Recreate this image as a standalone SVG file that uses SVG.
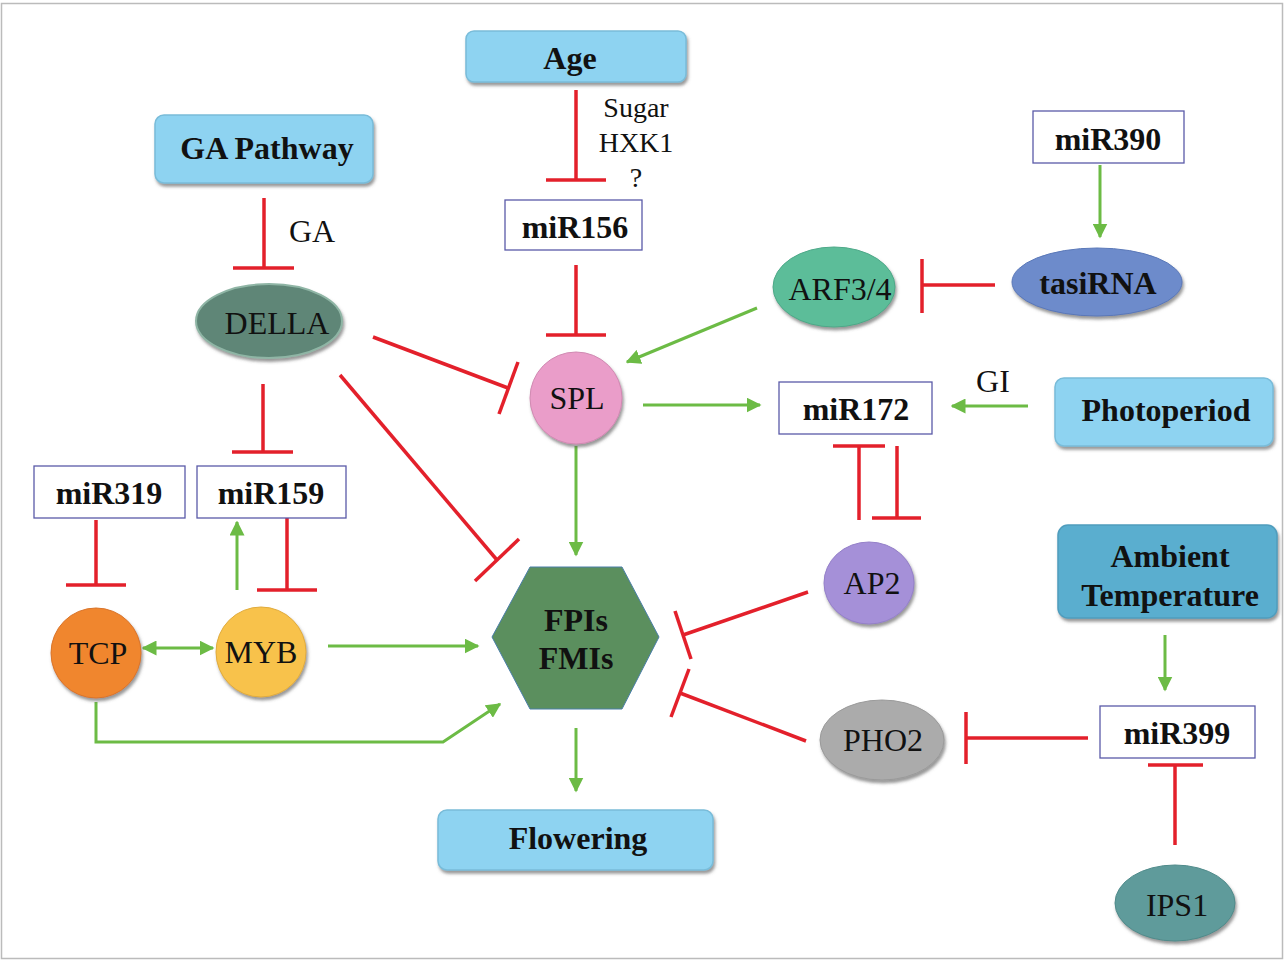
<svg xmlns="http://www.w3.org/2000/svg" width="1285" height="962" viewBox="0 0 1285 962">
<defs>
<style>
.bx{fill:#8ed3f1;stroke:#79bcd9;stroke-width:1.5}
.mb{fill:#fff;stroke:#5a5aa8;stroke-width:1.3}
.tb{font-family:'Liberation Serif','DejaVu Serif',serif;font-weight:bold;font-size:32px;fill:#111;text-anchor:middle}
.tr{font-family:'Liberation Serif','DejaVu Serif',serif;font-size:32px;fill:#111;text-anchor:middle}
.lb{font-family:'Liberation Serif','DejaVu Serif',serif;font-size:28px;fill:#111;text-anchor:middle}
.r{stroke:#e3202b;stroke-width:3.5;fill:none}
.ga{stroke:#6cbb45;stroke-width:3;fill:none;marker-end:url(#ah)}
</style>
<marker id="ah" viewBox="0 0 10 10" refX="9" refY="5" markerWidth="15" markerHeight="15" orient="auto-start-reverse" markerUnits="userSpaceOnUse">
<path d="M0,0 L10,5 L0,10 z" fill="#6cbb45"/>
</marker>
<filter id="sh" x="-20%" y="-20%" width="140%" height="150%">
<feDropShadow dx="1.5" dy="3" stdDeviation="1.5" flood-color="#555" flood-opacity="0.6"/>
</filter>
</defs>
<rect x="0" y="0" width="1285" height="962" fill="#fff"/>
<rect x="1.5" y="3.5" width="1281" height="955" fill="none" stroke="#bbb" stroke-width="1.5"/>

<g id="connectors">
<line class="r" x1="576" y1="90" x2="576" y2="180"/><line class="r" x1="546" y1="180" x2="606" y2="180"/>
<line class="r" x1="264" y1="198" x2="264" y2="268"/><line class="r" x1="233" y1="268" x2="294" y2="268"/>
<line class="r" x1="576" y1="265" x2="576" y2="335"/><line class="r" x1="546" y1="335" x2="606" y2="335"/>
<line class="ga" x1="1100" y1="165" x2="1100" y2="237"/>
<line class="r" x1="995" y1="285" x2="922" y2="285"/><line class="r" x1="922" y1="259" x2="922" y2="313"/>
<line class="ga" x1="757" y1="308" x2="627" y2="362"/>
<line class="r" x1="373" y1="337" x2="508" y2="388"/><line class="r" x1="518" y1="362" x2="499" y2="414"/>
<line class="r" x1="340" y1="375" x2="497" y2="560"/><line class="r" x1="475" y1="581" x2="519" y2="539"/>
<line class="r" x1="263" y1="384" x2="263" y2="452"/><line class="r" x1="232" y1="452" x2="293" y2="452"/>
<line class="r" x1="96" y1="520" x2="96" y2="585"/><line class="r" x1="66" y1="585" x2="126" y2="585"/>
<line class="r" x1="287" y1="518" x2="287" y2="590"/><line class="r" x1="257" y1="590" x2="317" y2="590"/>
<line class="ga" x1="237" y1="590" x2="237" y2="522"/>
<line class="ga" x1="143" y1="648" x2="213" y2="648" style="marker-start:url(#ah)"/>
<line class="ga" x1="328" y1="646" x2="478" y2="646"/>
<polyline class="ga" points="96,702 96,742 443,742 500,704"/>
<line class="ga" x1="576" y1="446" x2="576" y2="555"/>
<line class="ga" x1="576" y1="728" x2="576" y2="791"/>
<line class="ga" x1="643" y1="405" x2="760" y2="405"/>
<line class="ga" x1="1028" y1="406" x2="952" y2="406"/>
<line class="r" x1="859" y1="520" x2="859" y2="446"/><line class="r" x1="833" y1="446" x2="885" y2="446"/>
<line class="r" x1="897" y1="446" x2="897" y2="518"/><line class="r" x1="872" y1="518" x2="921" y2="518"/>
<line class="r" x1="808" y1="592" x2="683" y2="635"/><line class="r" x1="675" y1="611" x2="691" y2="659"/>
<line class="r" x1="806" y1="741" x2="680" y2="693"/><line class="r" x1="689" y1="669" x2="671" y2="717"/>
<line class="r" x1="1088" y1="738" x2="966" y2="738"/><line class="r" x1="966" y1="712" x2="966" y2="764"/>
<line class="ga" x1="1165" y1="635" x2="1165" y2="690"/>
<line class="r" x1="1175" y1="845" x2="1175" y2="765"/><line class="r" x1="1148" y1="765" x2="1203" y2="765"/>
<text class="lb" x="636" y="117">Sugar</text>
<text class="lb" x="636" y="152">HXK1</text>
<text class="lb" x="636" y="187">?</text>
<text class="tr" x="312" y="242">GA</text>
<text class="tr" x="993" y="392">GI</text>
</g>

<g id="age"><rect class="bx" x="466" y="31" width="220" height="51" rx="8" filter="url(#sh)"/><text class="tb" x="570" y="69">Age</text></g>
<g id="ga-pathway"><rect class="bx" x="155" y="115" width="218" height="68" rx="9" filter="url(#sh)"/><text class="tb" x="267" y="159">GA Pathway</text></g>
<g id="mir390"><rect class="mb" x="1033" y="111" width="151" height="52"/><text class="tb" x="1108" y="150">miR390</text></g>
<g id="mir156"><rect class="mb" x="505" y="200" width="137" height="50"/><text class="tb" x="575" y="238">miR156</text></g>
<g id="tasirna"><ellipse cx="1097" cy="282" rx="85" ry="34" fill="#6d8bcb" stroke="#5a78b8" filter="url(#sh)"/><text class="tb" x="1098" y="294">tasiRNA</text></g>
<g id="arf34"><ellipse cx="834" cy="287" rx="61" ry="40" fill="#5cbd99" stroke="#4da888" filter="url(#sh)"/><text class="tr" x="840" y="300">ARF3/4</text></g>
<g id="della"><ellipse cx="269" cy="321" rx="73" ry="37" fill="#5f8677" stroke="#8fb5a5" stroke-width="2" filter="url(#sh)"/><text class="tr" x="277" y="334">DELLA</text></g>
<g id="spl"><circle cx="576" cy="398" r="46" fill="#ea9dc9" stroke="#d08ab2" filter="url(#sh)"/><text class="tr" x="577" y="409">SPL</text></g>
<g id="mir172"><rect class="mb" x="779" y="382" width="153" height="52"/><text class="tb" x="856" y="420">miR172</text></g>
<g id="photoperiod"><rect class="bx" x="1055" y="378" width="218" height="68" rx="9" filter="url(#sh)"/><text class="tb" x="1166" y="421">Photoperiod</text></g>
<g id="mir319"><rect class="mb" x="34" y="466" width="151" height="52"/><text class="tb" x="109" y="504">miR319</text></g>
<g id="mir159"><rect class="mb" x="197" y="466" width="149" height="52"/><text class="tb" x="271" y="504">miR159</text></g>
<g id="tcp"><circle cx="96" cy="653" r="45" fill="#f0862e" stroke="#d9742a" filter="url(#sh)"/><text class="tr" x="98" y="664">TCP</text></g>
<g id="myb"><circle cx="261" cy="652" r="45" fill="#f8c24c" stroke="#e0ab3c" filter="url(#sh)"/><text class="tr" x="261" y="663">MYB</text></g>
<g id="fpis"><polygon points="492,637 530,567 622,567 659,637 622,709 530,709" fill="#5b8f5e" stroke="#4a7ea8" stroke-width="1"/><text class="tb" x="576" y="631">FPIs</text><text class="tb" x="576" y="669">FMIs</text></g>
<g id="flowering"><rect class="bx" x="438" y="810" width="275" height="60" rx="9" filter="url(#sh)"/><text class="tb" x="578" y="849">Flowering</text></g>
<g id="ap2"><ellipse cx="869" cy="583" rx="45" ry="41" fill="#a590d8" stroke="#9480c8" filter="url(#sh)"/><text class="tr" x="872" y="594">AP2</text></g>
<g id="ambient"><rect x="1058" y="525" width="219" height="93" rx="10" fill="#5aaecf" stroke="#4f9dbd" stroke-width="1.5" filter="url(#sh)"/><text class="tb" x="1170" y="567">Ambient</text><text class="tb" x="1170" y="606">Temperature</text></g>
<g id="mir399"><rect class="mb" x="1100" y="706" width="155" height="52"/><text class="tb" x="1177" y="744">miR399</text></g>
<g id="pho2"><ellipse cx="882" cy="740" rx="62" ry="40" fill="#ababab" stroke="#9a9a9a" filter="url(#sh)"/><text class="tr" x="883" y="751">PHO2</text></g>
<g id="ips1"><ellipse cx="1175" cy="903" rx="60" ry="38" fill="#5f9b9b" stroke="#4f8a8a" filter="url(#sh)"/><text class="tr" x="1177" y="916">IPS1</text></g>
</svg>
